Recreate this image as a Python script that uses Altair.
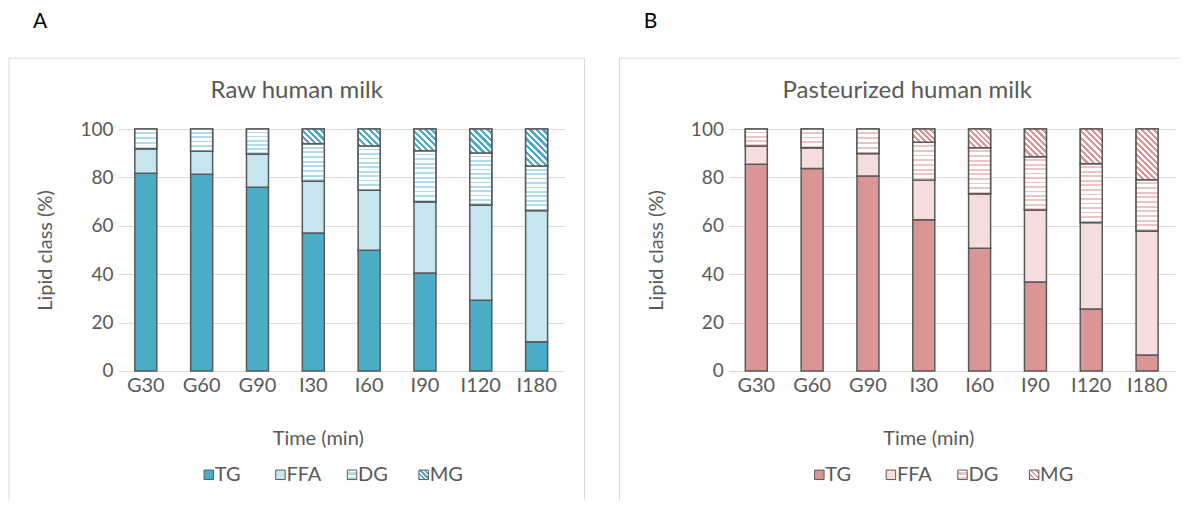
import math
import altair as alt
import pandas as pd

times = ["G30", "G60", "G90", "I30", "I60", "I90", "I120", "I180"]
classes = ["TG", "FFA", "DG", "MG"]

raw_tg = [81.7, 81.3, 76.0, 57.0, 49.9, 40.5, 29.2, 12.1]
raw_ffa = [10.2, 9.5, 13.7, 21.4, 24.8, 29.5, 39.4, 54.2]
raw_dg = [8.1, 9.2, 10.3, 15.5, 18.3, 21.0, 21.5, 18.4]
raw_mg = [0.0, 0.0, 0.0, 6.1, 7.0, 9.0, 9.9, 15.3]

past_tg = [85.5, 83.7, 80.6, 62.5, 50.7, 36.8, 25.6, 6.6]
past_ffa = [7.5, 8.6, 9.3, 16.4, 22.6, 29.7, 35.8, 51.3]
past_dg = [7.0, 7.7, 10.1, 15.7, 19.0, 22.1, 24.3, 21.2]
past_mg = [0.0, 0.0, 0.0, 5.4, 7.7, 11.4, 14.3, 20.9]

FONT = "Lato"
TXT = "#595959"
GRID = "#d9d9d9"
EDGE = "#595959"
W, H = 447, 242
BAR = 22


def hstripes(color, n, frac, bg="#ffffff"):
    n = max(1, n)
    stops = []
    for i in range(n):
        a, b, c = i / n, (i + frac) / n, (i + 1) / n
        stops += [{"offset": a, "color": bg}, {"offset": b, "color": bg},
                  {"offset": b, "color": color}, {"offset": c, "color": color}]
    return {"gradient": "linear", "x1": 0, "y1": 0, "x2": 0, "y2": 1, "stops": stops}


def dstripes(color, w, h, period, frac=0.5, bg="#ffffff"):
    # 45 degree "\" stripes for a w x h box (bbox-normalised gradient)
    s = (w + h) / (w * w + h * h)
    n = max(1, round((w + h) / math.sqrt(2) / period))
    stops = []
    for i in range(n):
        a, b, c = i / n, (i + frac) / n, (i + 1) / n
        stops += [{"offset": a, "color": color}, {"offset": b, "color": color},
                  {"offset": b, "color": bg}, {"offset": c, "color": bg}]
    return {"gradient": "linear", "x1": 0, "y1": 1, "x2": s * w, "y2": 1 - s * h, "stops": stops}


def build(tg, ffa, dg, mg):
    rows = []
    for i, t in enumerate(times):
        lo = 0.0
        for cls, vals in zip(classes, [tg, ffa, dg, mg]):
            v = vals[i]
            if v > 0:
                rows.append({"time": t, "cls": cls, "value": v, "lo": lo, "hi": lo + v})
            lo += v
    return pd.DataFrame(rows)


def panel(letter, title, tg, ffa, dg, mg, main, light, wave, right_edge, with_right):
    df = build(tg, ffa, dg, mg)

    x = alt.X(
        "time:N",
        sort=times,
        scale=alt.Scale(paddingInner=0, paddingOuter=0),
        axis=alt.Axis(
            title="Time (min)", labelAngle=0, labelFont=FONT, labelFontSize=20,
            labelColor=TXT, labelPadding=5, ticks=False, domain=False,
            titleFont=FONT, titleFontSize=20, titleColor=TXT, titleFontWeight="normal",
            titleX=200, titleY=68, titleBaseline="middle",
        ),
    )
    y = alt.Y(
        "lo:Q",
        scale=alt.Scale(domain=[0, 100], nice=False),
        axis=alt.Axis(
            title="Lipid class (%)", values=[0, 20, 40, 60, 80, 100],
            labelFont=FONT, labelFontSize=19, labelColor=TXT, labelPadding=5,
            ticks=False, domain=False, gridColor=GRID, gridWidth=1,
            titleFont=FONT, titleFontSize=20, titleColor=TXT, titleFontWeight="normal",
            titleX=-72, titleBaseline="middle",
        ),
    )

    base = alt.Chart(df).mark_bar(size=BAR, stroke=EDGE, strokeWidth=1.5).encode(
        x=x, y=y, y2="hi",
        color=alt.Color(
            "cls:N",
            scale=alt.Scale(domain=classes, range=[main, light, "#ffffff", "#ffffff"]),
            legend=None,
        ),
    )
    overlays = []
    for i, t in enumerate(times):
        hdg = dg[i] * H / 100.0
        if dg[i] > 0:
            overlays.append(
                alt.Chart(df).transform_filter(f"datum.cls === 'DG' && datum.time === '{t}'")
                .mark_bar(size=BAR, fill=hstripes(wave, round(hdg / 4.5), 0.6),
                          stroke=EDGE, strokeWidth=1.5)
                .encode(x=x, y=y, y2="hi")
            )
        hmg = mg[i] * H / 100.0
        if mg[i] > 0:
            overlays.append(
                alt.Chart(df).transform_filter(f"datum.cls === 'MG' && datum.time === '{t}'")
                .mark_bar(size=BAR, fill=dstripes(main, BAR, hmg, 4.4),
                          stroke=EDGE, strokeWidth=1.5)
                .encode(x=x, y=y, y2="hi")
            )
    bars = alt.layer(base, *overlays)

    # legend entries (own point scale for the class entries)
    leg = pd.DataFrame({"cls": classes})
    lx = alt.X("cls:N", sort=classes,
               scale=alt.Scale(type="point", range=[91, 306], padding=0), axis=None)
    ly = alt.value(346)
    leg_fills = {"TG": main, "FFA": light,
                 "DG": hstripes(wave, 2, 0.5), "MG": dstripes(main, 9, 9, 3.6)}
    leg_layers = []
    for c in classes:
        leg_layers.append(
            alt.Chart(leg).transform_filter(f"datum.cls === '{c}'").mark_square(
                size=90, fill=leg_fills[c], stroke=EDGE, strokeWidth=1, opacity=1
            ).encode(x=lx, y=ly)
        )
    leg_layers.append(
        alt.Chart(leg).mark_text(
            font=FONT, fontSize=20, color=TXT, align="left", baseline="middle", dx=6
        ).encode(x=lx, y=ly, text="cls:N")
    )
    legend = alt.layer(*leg_layers)

    one = pd.DataFrame({"k": [0]})
    deco = [
        alt.Chart(one).mark_rule(color=GRID, strokeWidth=1).encode(
            x=alt.value(-109), y=alt.value(-71), y2=alt.value(371)
        ),
        alt.Chart(one).mark_rule(color=GRID, strokeWidth=1).encode(
            x=alt.value(-109), x2=alt.value(right_edge), y=alt.value(-71)
        ),
    ]
    if with_right:
        deco.append(
            alt.Chart(one).mark_rule(color=GRID, strokeWidth=1).encode(
                x=alt.value(right_edge), y=alt.value(-71), y2=alt.value(371)
            )
        )
    deco.append(
        alt.Chart(one).mark_text(
            font=FONT, fontSize=21, color="#000000", align="center", baseline="middle"
        ).encode(x=alt.value(-78), y=alt.value(-107), text=alt.value(letter))
    )
    deco.append(
        alt.Chart(one).mark_text(
            font=FONT, fontSize=24, color=TXT, align="center", baseline="middle"
        ).encode(x=alt.value(179), y=alt.value(-38), text=alt.value(title))
    )
    decor = alt.layer(*deco)

    return (
        alt.layer(decor, bars, legend)
        .resolve_scale(x="independent")
        .properties(width=W, height=H)
    )


pa = panel("A", "Raw human milk", raw_tg, raw_ffa, raw_dg, raw_mg,
           "#4bacc6", "#c7e5ee", "#addced", 467, True)
pb = panel("B", "Pasteurized human milk", past_tg, past_ffa, past_dg, past_mg,
           "#d99694", "#f6dcdc", "#eec4c3", 452, False)

chart = (
    alt.hconcat(pa, pb, spacing=33)
    .resolve_scale(color="independent")
    .properties(padding={"left": 0, "top": 3, "right": 0, "bottom": 0})
    .configure_view(stroke=None)
)

chart.save("out.html", embed_options={"renderer": "svg", "actions": False})
